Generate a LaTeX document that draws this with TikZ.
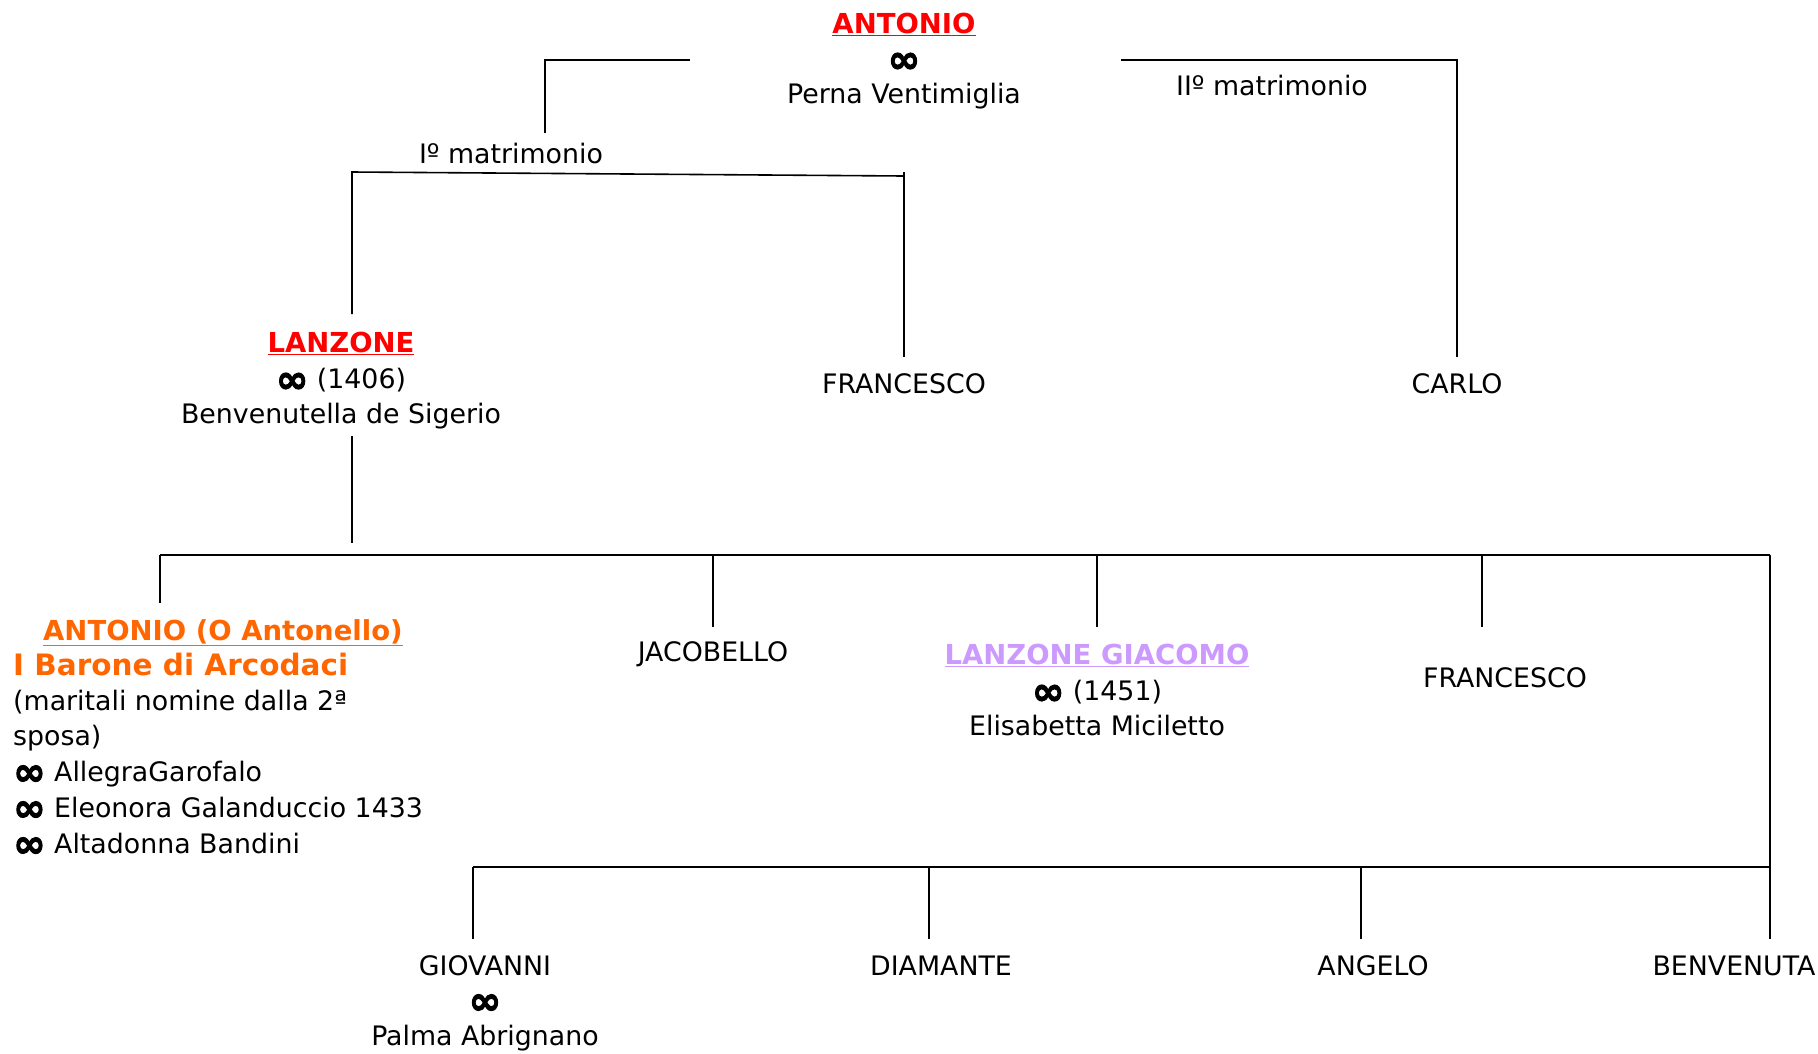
\documentclass[tikz,border=0pt]{standalone}
\usepackage{fontspec}
\setmainfont{DejaVu Sans}
\newfontfamily\inffont[FakeBold=2.5]{DejaVu Sans}
\definecolor{nred}{HTML}{FF0000}
\definecolor{norange}{HTML}{FF6600}
\definecolor{nlilac}{HTML}{CC99FF}
\newcommand\marr{\raisebox{-4pt}{\fontsize{39}{0}\inffont\bfseries ∞}}
\newcommand\bigname{\fontsize{27.5}{35}\selectfont\bfseries}
\begin{document}
\begin{tikzpicture}[x=1pt,y=-1pt,
  every node/.style={inner sep=0pt, font=\fontsize{26.8}{35}\selectfont},
  person/.style={align=center},
  link/.style={line width=1.6pt, black}]
\useasboundingbox (0,0) rectangle (1818,1053);
% people
\node[person, anchor=north] (antonio) at (904,13) {\textcolor{nred}{\bigname\underline{ANTONIO}}\\ \marr\\ Perna Ventimiglia};
\node (iimat) at (1272,86) {IIº matrimonio};
\node (imat) at (511,154) {Iº matrimonio};
\node[person, anchor=north] (lanzone) at (341,332) {\textcolor{nred}{\bigname\underline{LANZONE}}\\[1pt] \marr{} (1406)\\ Benvenutella de Sigerio};
\node (francesco) at (904,384) {FRANCESCO};
\node (carlo) at (1457,384) {CARLO};
\node[align=left, anchor=north west] (antonello) at (13,619) {\hspace*{30pt}\textcolor{norange}{\bigname\underline{ANTONIO (O Antonello)}}\\ \textcolor{norange}{\fontsize{29.5}{35}\selectfont\bfseries I Barone di Arcodaci}\\ (maritali nomine dalla 2ª\\ sposa)\\[1pt] \marr{} AllegraGarofalo\\[1pt] \marr{} Eleonora Galanduccio 1433\\[1pt] \marr{} Altadonna Bandini};
\node (jacobello) at (713,654) {JACOBELLO};
\node[person, anchor=north] (giacomo) at (1097,644) {\textcolor{nlilac}{\bigname\underline{LANZONE GIACOMO}}\\[1pt] \marr{} (1451)\\ Elisabetta Miciletto};
\node (francescoii) at (1505,678) {FRANCESCO};
\node[person, anchor=north] (giovanni) at (485,955) {GIOVANNI\\ \marr\\ Palma Abrignano};
\node (diamante) at (941,966) {DIAMANTE};
\node (angelo) at (1373,966) {ANGELO};
\node (benvenuta) at (1734,966) {BENVENUTA};
% connector points
\coordinate (a1) at (690,60);
\coordinate (a2) at (545,60);
\coordinate (a3) at (545,133);
\coordinate (b1) at (1121,60);
\coordinate (b2) at (1457,60);
\coordinate (b3) at (1457,357);
\coordinate (c1) at (352,172);
\coordinate (c2) at (904,176);
\coordinate (c2t) at (904,172);
\coordinate (c3) at (904,357);
\coordinate (c4) at (352,314);
\coordinate (d1) at (352,436);
\coordinate (d2) at (352,543);
\coordinate (e1) at (160,555);
\coordinate (e2) at (1770,555);
\coordinate (f0) at (160,603);
\coordinate (f1) at (713,555);
\coordinate (f1b) at (713,627);
\coordinate (f2) at (1097,555);
\coordinate (f2b) at (1097,627);
\coordinate (f3) at (1482,555);
\coordinate (f3b) at (1482,627);
\coordinate (g1) at (473,867);
\coordinate (g2) at (1770,867);
\coordinate (h0) at (473,939);
\coordinate (h1) at (929,867);
\coordinate (h1b) at (929,939);
\coordinate (h2) at (1361,867);
\coordinate (h2b) at (1361,939);
\coordinate (h3) at (1770,939);
% connectors
\draw[link] (a1) -- (a2) -- (a3);
\draw[link] (b1) -- (b2) -- (b3);
\draw[link] (c4) -- (c1) -- (c2);
\draw[link] (c2t) -- (c3);
\draw[link] (d1) -- (d2);
\draw[link] (e1) -- (e2);
\draw[link] (e1) -- (f0);
\draw[link] (f1) -- (f1b);
\draw[link] (f2) -- (f2b);
\draw[link] (f3) -- (f3b);
\draw[link] (e2) -- (h3);
\draw[link] (g1) -- (g2);
\draw[link] (g1) -- (h0);
\draw[link] (h1) -- (h1b);
\draw[link] (h2) -- (h2b);
\end{tikzpicture}
\end{document}
